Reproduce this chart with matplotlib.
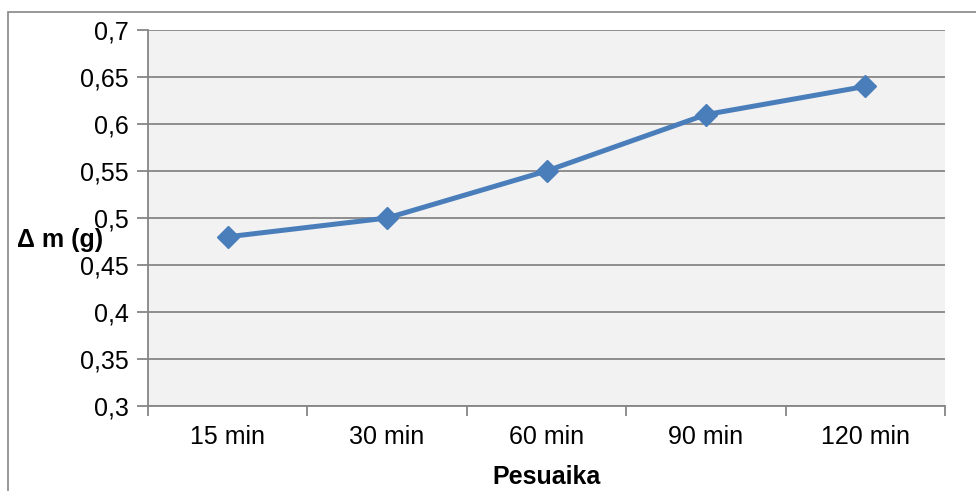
import matplotlib
matplotlib.use('Agg')
import matplotlib.pyplot as plt
from matplotlib.patches import Rectangle

# mittaukset
aika = ['15 min', '30 min', '60 min', '90 min', '120 min']
dm = [0.48, 0.50, 0.55, 0.61, 0.64]
yticks = [0.3, 0.35, 0.4, 0.45, 0.5, 0.55, 0.6, 0.65, 0.7]

plt.rcParams['font.family'] = ['Liberation Sans', 'DejaVu Sans']

fig = plt.figure(figsize=(9.76, 4.91), dpi=100, facecolor='white')
ax = fig.add_axes([148/976, 1 - 406/491, (945 - 148)/976, (406 - 30)/491])

# kehys koko kuvan ympärille
fig.patches.append(Rectangle((8/976, -0.1), 1.2, 1 - 12/491 + 0.1, transform=fig.transFigure,
                             fill=False, edgecolor='#868686', linewidth=1.2))

ax.set_facecolor('#F2F2F2')
x = range(len(aika))
ax.plot(x, dm, color='#4A7EBB', linewidth=3.6, marker='D', markersize=11.5,
        markerfacecolor='#4A7EBB', markeredgecolor='#4A7EBB', zorder=3)

ax.set_xlim(-0.5, len(aika) - 0.5)
ax.set_ylim(0.3, 0.7)
ax.set_yticks(yticks)
ax.set_yticklabels([('%g' % v).replace('.', ',') for v in yticks], fontsize=18)
ax.set_xticks([i - 0.5 for i in range(len(aika) + 1)])
ax.set_xticklabels([])
ax.set_xticks(list(x), minor=True)
ax.set_xticklabels(aika, minor=True, fontsize=18)
ax.tick_params(axis='x', which='minor', length=0, pad=14)
ax.tick_params(axis='x', which='major', length=7, color='#868686', width=1.3)
ax.tick_params(axis='y', length=8, color='#868686', width=1.3, pad=6)
ax.grid(axis='y', color='#868686', linewidth=1.3)
ax.set_axisbelow(True)

for s in ['top', 'right']:
    ax.spines[s].set_visible(False)
ax.spines['left'].set_color('#868686')
ax.spines['bottom'].set_color('#868686')
ax.spines['left'].set_linewidth(1.3)
ax.spines['bottom'].set_linewidth(1.3)

fig.text(60/976, 1 - 240/491, 'Δ m (g)', fontsize=18, fontweight='bold', ha='center', va='center')
fig.text(546/976, 1 - 477/491, 'Pesuaika', fontsize=18, fontweight='bold', ha='center', va='center')

fig.savefig('out.png', dpi=100)
